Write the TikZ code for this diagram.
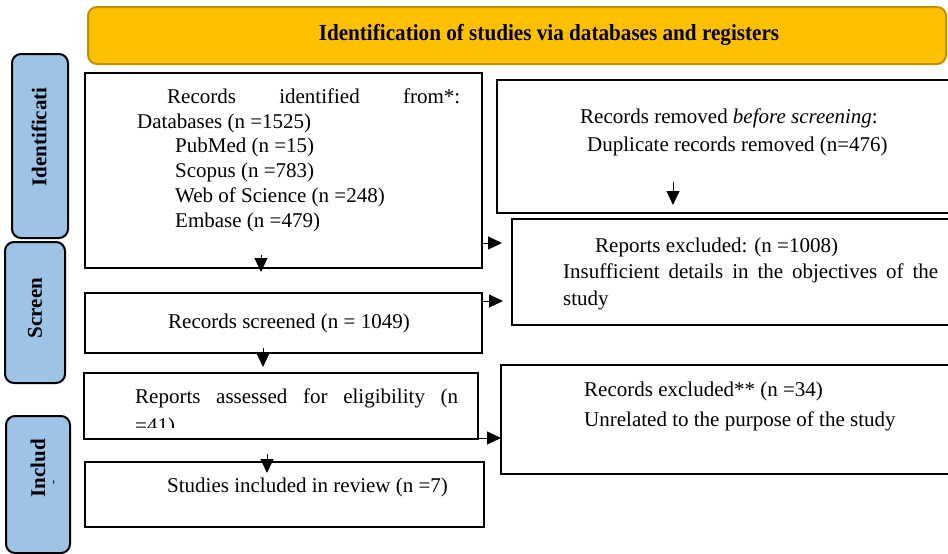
\documentclass[tikz,border=0pt]{standalone}
\usepackage{fontspec}
\setmainfont{Liberation Serif}
\usetikzlibrary{arrows.meta,calc}
\definecolor{hdrfill}{RGB}{255,192,0}
\definecolor{hdrline}{RGB}{191,144,0}
\definecolor{sidefill}{RGB}{157,195,230}
\tikzset{
  box/.style={draw=black,line width=2.4pt,inner sep=0pt,fill=white},
  sidebox/.style={draw=black,line width=2pt,rounded corners=9pt,fill=sidefill,inner sep=0pt},
  hdrbox/.style={draw=hdrline,line width=2pt,rounded corners=9pt,fill=hdrfill,inner sep=0pt},
  txt/.style={anchor=base west,inner sep=0pt,font=\fontsize{21}{24}\selectfont},
  sidetxt/.style={rotate=90,inner sep=0pt,font=\fontsize{21}{24}\selectfont\bfseries},
  arr/.style={line width=1pt,-{Triangle[length=14pt,width=13pt]}}
}
\begin{document}
\begin{tikzpicture}[x=1pt,y=-1pt]
\useasboundingbox[fill=white] (0,0) rectangle (948,554);
% header
\node[hdrbox,minimum width=858pt,minimum height=57pt] (hdr) at (517,35.5) {};
\node[inner sep=0pt,font=\fontsize{23}{26}\selectfont\bfseries] (hdrt) at (549,35) {\scalebox{0.92}[1]{Identification of studies via databases and registers}};
% side labels
\node[sidebox,minimum width=56pt,minimum height=184pt] (s1) at (40,146) {};
\node[sidebox,minimum width=60pt,minimum height=141pt] (s2) at (35,312.5) {};
\node[sidebox,minimum width=64pt,minimum height=137pt] (s3) at (38,484.5) {};
\node[sidetxt] (s1t) at (39,137) {Identificati};
\node[sidetxt] (s2t) at (35,308) {Screen};
\node[sidetxt] (s3t) at (38,468) {Includ};
\node[rotate=90,inner sep=0pt,font=\fontsize{12}{12}\selectfont\bfseries] (s3d) at (55,482) {-};
% left boxes
\node[box,minimum width=397pt,minimum height=195pt] (b1) at (283.5,170.5) {};
\node[box,minimum width=397pt,minimum height=60pt] (b2) at (283.5,323) {};
\node[box,minimum width=394pt,minimum height=66pt] (b3) at (281,406) {};
\node[box,minimum width=399pt,minimum height=65pt] (b4) at (284.5,494.5) {};
% right boxes
\begin{scope}
\clip (0,0) rectangle (948,554);
\node[box,minimum width=463pt,minimum height=133pt] (r1) at (728.5,146.5) {};
\node[box,minimum width=448pt,minimum height=106pt] (r2) at (736,272) {};
\node[box,minimum width=459pt,minimum height=109pt] (r3) at (730.5,419.5) {};
\end{scope}
% texts box 1
\node[txt] (b1l1) at (167,103) {\hbox to 293pt{Records\hfill identified\hfill from*:}};
\node[txt] (b1l2) at (137,128) {Databases (n =1525)};
\node[txt] (b1l3) at (175,152) {PubMed (n =15)};
\node[txt] (b1l4) at (175,177) {Scopus (n =783)};
\node[txt] (b1l5) at (175,202) {Web of Science (n =248)};
\node[txt] (b1l6) at (175,227) {Embase (n =479)};
\node[txt] (b2l1) at (168,328) {Records screened (n = 1049)};
\node[txt] (b3l1) at (135,403) {\hbox to 323pt{Reports\hfill assessed\hfill for\hfill eligibility\hfill (n}};
\begin{scope}
\clip (90,376) rectangle (470,427);
\node[txt] (b3l2) at (135,432) {=41)};
\end{scope}
\node[txt] (b4l1) at (167,492) {Studies included in review (n =7)};
\node[txt] (r1l1) at (580,123) {Records removed \textit{before screening}:};
\node[txt] (r1l2) at (587,151) {Duplicate records removed (n=476)};
\node[txt] (r2l1) at (595,252) {Reports excluded: (n =1008)};
\node[txt] (r2l2) at (563,278) {\hbox to 375pt{Insufficient\hfill details\hfill in\hfill the\hfill objectives\hfill of\hfill the}};
\node[txt] (r2l3) at (563,305) {study};
\node[txt] (r3l1) at (584,396) {Records excluded** (n =34)};
\node[txt] (r3l2) at (584,426) {Unrelated to the purpose of the study};
% arrows
\coordinate (a1s) at (261,255); \coordinate (a1e) at (261,272);
\coordinate (a2s) at (673,182); \coordinate (a2e) at (673,205);
\coordinate (a3e) at (502,243);
\coordinate (a4e) at (503,301);
\coordinate (a5e) at (501,438);
\coordinate (a6s) at (263,348); \coordinate (a6e) at (263,367);
\coordinate (a7s) at (267,454); \coordinate (a7e) at (267,473);
\draw[arr] (a1s) -- (a1e);
\draw[arr] (a2s) -- (a2e);
\draw[arr] (b1.east |- a3e) -- (a3e);
\draw[arr] (b2.east |- a4e) -- (a4e);
\draw[arr] (b3.east |- a5e) -- (a5e);
\draw[arr] (a6s) -- (a6e);
\draw[arr] (a7s) -- (a7e);
\end{tikzpicture}
\end{document}
